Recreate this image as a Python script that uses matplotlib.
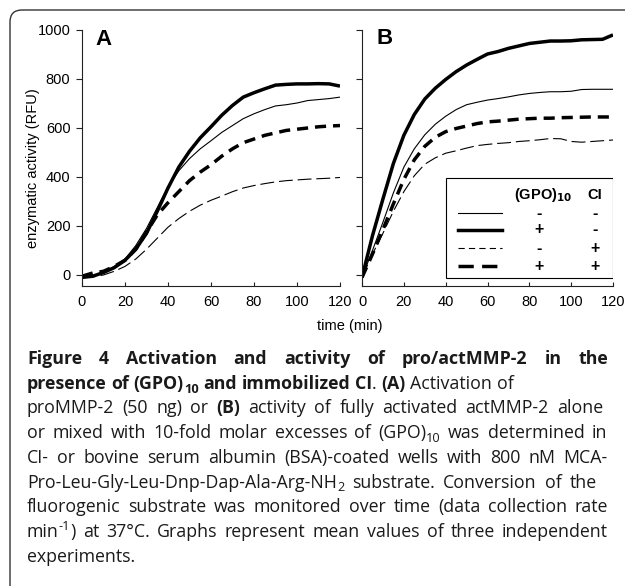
"""Figure 4: activation and activity of pro/actMMP-2 (two kinetic panels + caption)."""

import matplotlib
import matplotlib.pyplot as plt
from matplotlib.lines import Line2D
from matplotlib.patches import FancyBboxPatch, Rectangle
from matplotlib.transforms import IdentityTransform

matplotlib.use("Agg")

# time points (min)
t = [0, 5, 10, 15, 20, 25, 30, 35, 40, 45, 50, 55, 60,
     65, 70, 75, 80, 85, 90, 95, 100, 105, 110, 115, 120]

# panel A: activation of proMMP-2 (RFU)
a_ctrl = [-10, -5, 10, 35, 65, 120, 190, 275, 360, 425, 475, 515, 548,
          582, 610, 638, 658, 675, 690, 695, 702, 712, 716, 720, 726]
a_gpo = [-10, -5, 10, 30, 60, 105, 170, 260, 355, 440, 505, 560, 605,
         652, 692, 726, 744, 760, 775, 778, 780, 780, 781, 780, 771]
a_ci = [-10, -8, 0, 15, 35, 65, 105, 150, 195, 230, 260, 285, 305,
        322, 340, 355, 365, 373, 380, 385, 388, 391, 393, 395, 398]
a_both = [-5, 8, 15, 35, 60, 105, 175, 245, 295, 340, 385, 420, 450,
          485, 515, 540, 555, 570, 580, 590, 595, 600, 605, 608, 610]

# panel B: activity of actMMP-2 (RFU)
b_ctrl = [-10, 100, 215, 335, 440, 515, 572, 615, 648, 675, 695, 705, 714,
          720, 727, 735, 741, 745, 748, 748, 750, 757, 758, 758, 758]
b_gpo = [-10, 160, 310, 455, 570, 655, 718, 762, 798, 830, 857, 880, 902,
         912, 925, 935, 945, 950, 955, 955, 956, 960, 961, 962, 980]
b_ci = [-10, 85, 170, 260, 340, 405, 452, 478, 497, 507, 518, 528, 533,
        537, 540, 545, 548, 552, 557, 556, 545, 542, 545, 548, 551]
b_both = [-10, 85, 185, 290, 390, 470, 525, 562, 585, 598, 608, 618, 625,
          628, 632, 636, 638, 640, 640, 642, 643, 644, 645, 645, 645]

gpo_marks = ["-", "+", "-", "+"]
ci_marks = ["-", "-", "+", "+"]

W, H, DPI = 625, 586, 100
CHART_FONT = "Liberation Sans"
CAP_FONT = "Open Sans"
CAP_SIZE = 12.8

plt.rcParams["font.family"] = CHART_FONT
plt.rcParams["lines.scale_dashes"] = False

styles = [
    dict(lw=0.8, ls="-"),
    dict(lw=2.5, ls="-"),
    dict(lw=0.8, ls=(0, (10, 3.5))),
    dict(lw=2.5, ls=(0, (8, 5))),
]
legend_styles = [
    dict(lw=0.8, ls="-"),
    dict(lw=2.5, ls="-"),
    dict(lw=0.8, ls=(0, (4.5, 3))),
    dict(lw=2.5, ls=(0, (11, 6))),
]


def fx(px):
    return px / W


def fy(py):
    return 1 - py / H


fig = plt.figure(figsize=(W / DPI, H / DPI), dpi=DPI)

# rounded frame around the figure
fig.patches.append(FancyBboxPatch(
    (10, -40), 700, H - 10 + 40, boxstyle="round,pad=0,rounding_size=12",
    transform=IdentityTransform(), fill=False, lw=1.0, ec="#333333"))

ax_a = fig.add_axes([fx(82), fy(286), fx(258), 256 / H])
ax_b = fig.add_axes([fx(362), fy(286), fx(251), 256 / H])

for ax, series in ((ax_a, (a_ctrl, a_gpo, a_ci, a_both)),
                   (ax_b, (b_ctrl, b_gpo, b_ci, b_both))):
    for vals, st in zip(series, styles):
        ax.plot(t, vals, color="black", solid_capstyle="butt",
                dash_capstyle="butt", solid_joinstyle="round", **st)
    ax.set_xlim(0, 120)
    ax.set_ylim(-45, 1000)
    ax.set_xticks(range(0, 121, 20))
    ax.set_yticks(range(0, 1001, 200))
    for s in ("top", "right"):
        ax.spines[s].set_visible(False)
    for s in ("left", "bottom"):
        ax.spines[s].set_linewidth(0.8)
        ax.spines[s].set_color("#222222")
    ax.tick_params(axis="y", direction="out", length=4.3, width=0.8,
                   pad=4, labelsize=10.5, color="#222222")
    ax.tick_params(axis="x", direction="in", length=3, width=0.8,
                   pad=6.5, labelsize=10.5, color="#222222")
    ax.patch.set_visible(False)

ax_b.tick_params(axis="y", labelleft=False)

fig.text(fx(95), fy(45), "A", fontsize=16, fontweight="bold")
fig.text(fx(376), fy(44), "B", fontsize=16, fontweight="bold")
fig.text(fx(33), fy(168), "enzymatic activity (RFU)", rotation=90,
         ha="center", va="center", fontsize=10.5)
fig.text(fx(350), fy(326), "time (min)", ha="center", va="center",
         fontsize=10.5)

# legend table in panel B
tr = ax_b.transAxes
ax_b.add_patch(Rectangle((0.333, 0.033), 0.667, 0.39, transform=tr,
                         fill=True, fc="white", ec="black", lw=0.8, zorder=5))
ax_b.text(0.72, 0.355, r"(GPO)$_{\mathbf{10}}$", transform=tr, ha="center",
          va="center", fontsize=10.5, fontweight="bold", zorder=6)
ax_b.text(0.928, 0.355, "CI", transform=tr, ha="center", va="center",
          fontsize=10.5, fontweight="bold", zorder=6)
row_y = [0.285, 0.219, 0.148, 0.078]
for yy, st, g, c in zip(row_y, legend_styles, gpo_marks, ci_marks):
    ax_b.add_line(Line2D([0.382, 0.558], [yy, yy], transform=tr,
                         color="black", zorder=6, dash_capstyle="butt", **st))
    ax_b.text(0.705, yy, g, transform=tr, ha="center", va="center",
              fontsize=11.5, fontweight="bold", zorder=6)
    ax_b.text(0.928, yy, c, transform=tr, ha="center", va="center",
              fontsize=11.5, fontweight="bold", zorder=6)

# caption, set word by word so lines can be justified
caption = [
    ([("Figure 4 Activation and activity of pro/actMMP-2 in the", "b")], 608),
    ([("presence of (GPO)", "b"), ("10", "bsub"),
      (" and immobilized CI", "b"), (". ", "n"), ("(A)", "b"),
      (" Activation of", "n")], None),
    ([("proMMP-2 (50 ng) or ", "n"), ("(B)", "b"),
      (" activity of fully activated actMMP-2 alone", "n")], 603),
    ([("or mixed with 10-fold molar excesses of (GPO)", "n"), ("10", "sub"),
      (" was determined in", "n")], 607),
    ([("CI- or bovine serum albumin (BSA)-coated wells with 800 nM MCA-",
       "n")], 608),
    ([("Pro-Leu-Gly-Leu-Dnp-Dap-Ala-Arg-NH", "n"), ("2", "sub"),
      (" substrate. Conversion of the", "n")], 597),
    ([("fluorogenic substrate was monitored over time (data collection rate",
       "n")], 608),
    ([("min", "n"), ("-1", "sup"),
      (") at 37°C. Graphs represent mean values of three independent", "n")],
     608),
    ([("experiments.", "n")], None),
]

renderer = fig.canvas.get_renderer()
px_per_pt = DPI / 72


def make_piece(text, kind):
    bold = kind.startswith("b")
    small = kind.endswith("sub") or kind == "sup"
    size = CAP_SIZE * (0.72 if small else 1.0)
    tx = fig.text(0, 0, text, fontfamily=CAP_FONT, fontsize=size,
                  fontweight="bold" if bold else "normal", va="baseline",
                  color="#1a1a1a")
    dy = 0.0
    if kind.endswith("sub"):
        dy = -0.22 * CAP_SIZE * px_per_pt
    elif kind == "sup":
        dy = 0.38 * CAP_SIZE * px_per_pt
    width = tx.get_window_extent(renderer).width
    return tx, width, dy


def text_width(s):
    tx = fig.text(0, 0, s, fontfamily=CAP_FONT, fontsize=CAP_SIZE)
    w = tx.get_window_extent(renderer).width
    tx.remove()
    return w


space = text_width("a a") - text_width("aa")

x_left, base0, step = 27, 364, 24.7
for i, (runs, x_right) in enumerate(caption):
    words = [[]]
    for text, kind in runs:
        for j, part in enumerate(text.split(" ")):
            if j > 0:
                words.append([])
            if part:
                words[-1].append(make_piece(part, kind))
    words = [w for w in words if w]
    widths = [sum(p[1] for p in w) for w in words]
    gap = space
    if x_right is not None and len(words) > 1:
        gap = max((x_right - x_left - sum(widths)) / (len(words) - 1),
                  0.4 * space)
    x = x_left
    base = base0 + i * step
    for w, ww in zip(words, widths):
        for tx, pw, dy in w:
            tx.set_position((fx(x), fy(base - dy)))
            x += pw
        x += gap

fig.savefig("out.png", dpi=DPI)
